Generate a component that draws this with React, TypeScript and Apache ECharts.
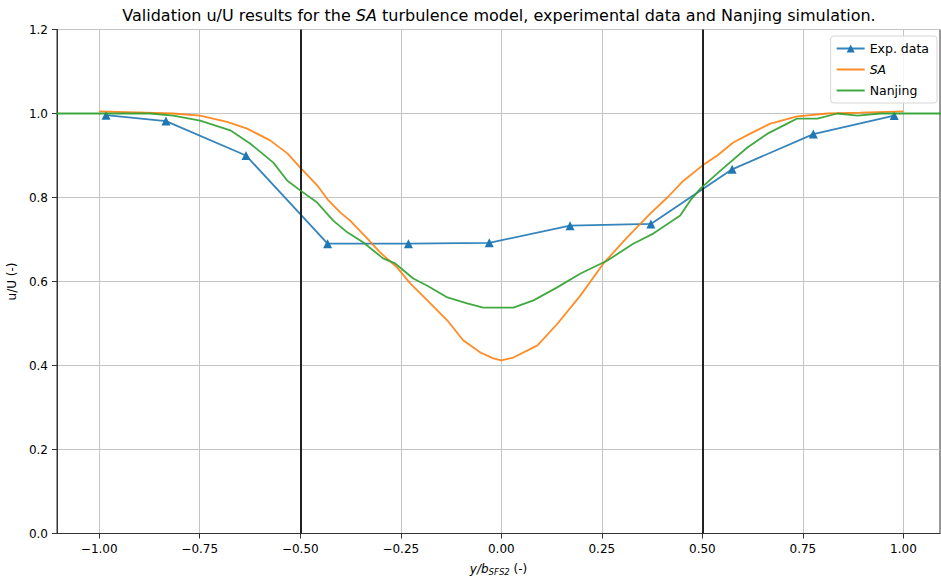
import React, { useEffect, useRef } from "react";
import * as echarts from "echarts";

const EXP_X = [-0.983, -0.834, -0.635, -0.432, -0.231, -0.03, 0.171, 0.372, 0.574, 0.776, 0.977];
const EXP_Y = [0.996, 0.982, 0.9, 0.69, 0.69, 0.692, 0.733, 0.737, 0.867, 0.951, 0.995];

const SA_X = [-1.0, -0.816, -0.749, -0.682, -0.632, -0.575, -0.532, -0.5, -0.458, -0.43, -0.4, -0.376, -0.333, -0.301, -0.259, -0.226, -0.184, -0.134, -0.095, -0.052, -0.02, 0.0, 0.03, 0.09, 0.14, 0.197, 0.254, 0.313, 0.371, 0.413, 0.453, 0.5, 0.537, 0.577, 0.619, 0.669, 0.736, 0.811, 0.893, 1.0];
const SA_Y = [1.005, 1.0, 0.995, 0.98, 0.964, 0.936, 0.905, 0.871, 0.829, 0.793, 0.764, 0.745, 0.702, 0.669, 0.633, 0.595, 0.555, 0.507, 0.46, 0.431, 0.417, 0.412, 0.419, 0.448, 0.5, 0.567, 0.643, 0.705, 0.762, 0.8, 0.84, 0.876, 0.9, 0.931, 0.952, 0.976, 0.993, 1.0, 1.002, 1.005];

const NJ_X = [-1.11, -0.873, -0.816, -0.749, -0.674, -0.624, -0.567, -0.532, -0.5, -0.458, -0.418, -0.383, -0.343, -0.294, -0.264, -0.219, -0.184, -0.134, -0.085, -0.045, 0.03, 0.08, 0.139, 0.197, 0.264, 0.328, 0.378, 0.445, 0.47, 0.495, 0.545, 0.612, 0.662, 0.711, 0.736, 0.786, 0.836, 0.886, 0.943, 1.11];
const NJ_Y = [1.0, 1.0, 0.995, 0.983, 0.96, 0.928, 0.883, 0.84, 0.817, 0.788, 0.745, 0.717, 0.693, 0.655, 0.643, 0.607, 0.59, 0.562, 0.548, 0.538, 0.538, 0.555, 0.586, 0.619, 0.65, 0.69, 0.714, 0.757, 0.793, 0.821, 0.864, 0.919, 0.952, 0.976, 0.988, 0.988, 1.0, 0.995, 1.0, 1.0];

const X_TICKS = [-1.0, -0.75, -0.5, -0.25, 0.0, 0.25, 0.5, 0.75, 1.0];
const V_LINES = [-0.5, 0.5];

const FONT = "DejaVu Sans";

export default function App() {
  const ref = useRef<HTMLDivElement>(null);
  useEffect(() => {
    if (!ref.current) return;
    const chart = echarts.init(ref.current, null, { renderer: "svg" });
    const zip = (xs: number[], ys: number[]) => xs.map((x, i) => [x, ys[i]]);
    chart.setOption({
      animation: false,
      backgroundColor: "#ffffff",
      textStyle: { fontFamily: FONT },
      grid: {
        left: 57,
        right: 1,
        top: 29.5,
        bottom: 45.5,
        containLabel: false,
        outerBoundsMode: "none",
        show: true,
        borderColor: "#333",
        borderWidth: 1,
        backgroundColor: "transparent",
      },
      graphic: [
        {
          type: "text",
          x: 499,
          y: 15.5,
          style: {
            text: "Validation u/U results for the {i|SA} turbulence model, experimental data and Nanjing simulation.",
            fontFamily: FONT,
            fontSize: 16,
            fill: "#000",
            align: "center",
            verticalAlign: "middle",
            rich: { i: { fontStyle: "italic", fontFamily: FONT, fontSize: 16, fill: "#000" } },
          },
        },
      ],
      legend: {
        orient: "vertical",
        right: 4,
        top: 36,
        itemWidth: 28,
        itemHeight: 10,
        itemGap: 8,
        padding: [6, 8, 6, 5],
        borderColor: "#d6d6d6",
        borderWidth: 1,
        borderRadius: 3,
        backgroundColor: "rgba(255,255,255,0.85)",
        textStyle: {
          fontFamily: FONT,
          fontSize: 12.5,
          color: "#000",
          rich: { i: { fontStyle: "italic", fontFamily: FONT, fontSize: 12.5, color: "#000" } },
        },
        formatter: (name: string) => (name === "SA" ? "{i|SA}" : name),
        data: [
          { name: "Exp. data" },
          { name: "SA", itemStyle: { opacity: 0 } },
          { name: "Nanjing", itemStyle: { opacity: 0 } },
        ],
      },
      xAxis: {
        type: "value",
        min: -1.105,
        max: 1.091,
        name: "{i|y/b}{s|SFS2}{n| (-)}",
        nameLocation: "middle",
        nameGap: 28,
        nameTextStyle: {
          rich: {
            i: { fontStyle: "italic", fontFamily: FONT, fontSize: 12, color: "#000" },
            s: { fontStyle: "italic", fontFamily: FONT, fontSize: 8.5, color: "#000", verticalAlign: "bottom", padding: [6, 0, 0, 0] },
            n: { fontFamily: FONT, fontSize: 12, color: "#000" },
          },
        },
        axisLine: { show: true, onZero: false, lineStyle: { color: "#333", width: 1 } },
        axisTick: { show: true, inside: false, length: 5, customValues: X_TICKS, lineStyle: { color: "#333" } },
        axisLabel: {
          customValues: X_TICKS,
          margin: 9,
          fontFamily: FONT,
          fontSize: 12,
          color: "#000",
          formatter: (v: number) => v.toFixed(2).replace("-", "\u2212"),
        },
        splitLine: { show: true, lineStyle: { color: "#c4c4c4", width: 1 } },
      },
      yAxis: {
        type: "value",
        min: 0,
        max: 1.2,
        interval: 0.2,
        name: "u/U (-)",
        nameLocation: "middle",
        nameGap: 37,
        nameTextStyle: { fontFamily: FONT, fontSize: 12, color: "#000" },
        axisLine: { show: true, onZero: false, lineStyle: { color: "#333", width: 1 } },
        axisTick: { show: true, inside: false, length: 5, lineStyle: { color: "#333" } },
        axisLabel: {
          margin: 9,
          fontFamily: FONT,
          fontSize: 12,
          color: "#000",
          formatter: (v: number) => v.toFixed(1),
        },
        splitLine: { show: true, lineStyle: { color: "#c4c4c4", width: 1 } },
      },
      series: [
        {
          name: "Exp. data",
          type: "line",
          data: zip(EXP_X, EXP_Y),
          symbol: "triangle",
          symbolSize: 9,
          showSymbol: true,
          color: "#1f77b4",
          lineStyle: { color: "#1f77b4", width: 1.8, opacity: 0.9 },
          itemStyle: { color: "#1f77b4" },
          clip: true,
          z: 3,
        },
        {
          name: "SA",
          type: "line",
          data: zip(SA_X, SA_Y),
          symbol: "none",
          color: "#ff7f0e",
          lineStyle: { color: "#ff7f0e", width: 1.8, opacity: 0.9 },
          clip: true,
          z: 4,
        },
        {
          name: "Nanjing",
          type: "line",
          data: zip(NJ_X, NJ_Y),
          symbol: "none",
          color: "#2ca02c",
          lineStyle: { color: "#2ca02c", width: 1.8, opacity: 0.9 },
          clip: true,
          z: 5,
          markLine: {
            silent: true,
            symbol: ["none", "none"],
            label: { show: false },
            lineStyle: { color: "#222", width: 2, type: "solid", opacity: 1 },
            data: V_LINES.map((v) => ({ xAxis: v })),
          },
        },
      ],
    });
    return () => chart.dispose();
  }, []);
  return <div ref={ref} style={{ position: "fixed", left: 0, top: 0, width: 941, height: 579 }} />;
}
